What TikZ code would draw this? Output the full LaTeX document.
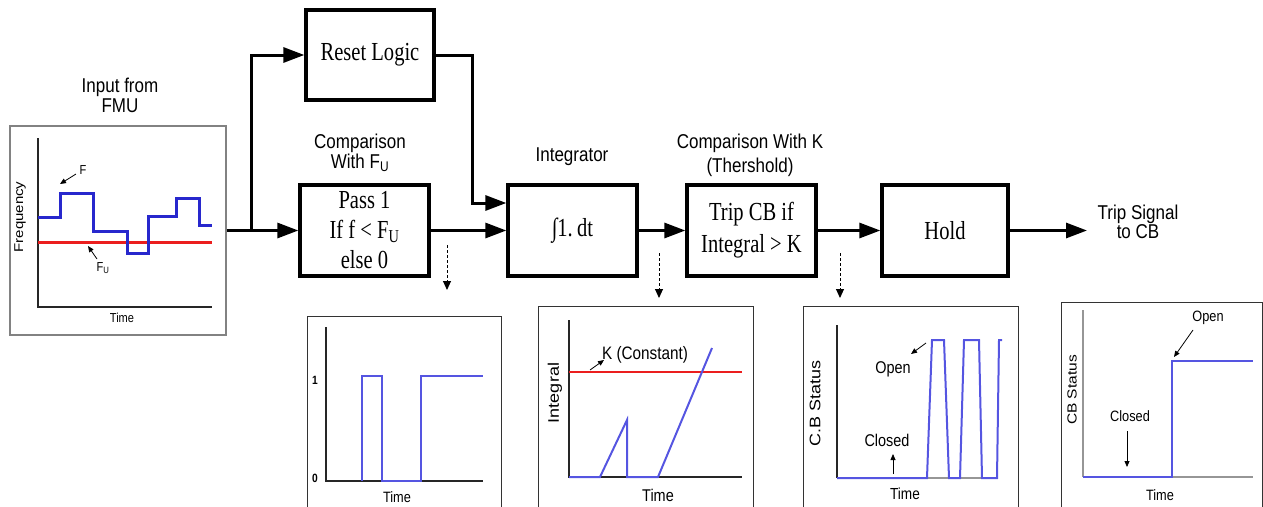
\documentclass[tikz,border=0pt]{standalone}
\usepackage{fontspec}
\usepackage{graphicx}
\setmainfont{Liberation Serif}
\newfontfamily\sa[FakeStretch=0.85]{Liberation Sans}
\newfontfamily\se[FakeStretch=0.79]{Liberation Serif}
\newfontfamily\sr{Liberation Sans}
\usetikzlibrary{arrows.meta}
\definecolor{sigblue}{RGB}{85,85,225}
\definecolor{inblue}{RGB}{40,40,205}
\definecolor{kred}{RGB}{235,30,30}
\definecolor{bxgray}{RGB}{130,130,130}
\definecolor{axgray}{RGB}{150,150,150}
\tikzset{
  blk/.style={draw, line width=3.3pt, minimum width=129, minimum height=91, inner sep=0,
    font=\se\fontsize{26}{30}\selectfont, align=center},
  arr/.style={line width=3pt, -{Triangle[length=21pt,width=15pt]}},
  darr/.style={line width=1pt, dash pattern=on 3pt off 2pt, -{Triangle[length=9pt,width=8pt]}},
  sarr/.style={line width=0.8pt, -{Triangle[length=6pt,width=5pt]}},
  lbl/.style={font=\sa\fontsize{20}{20}\selectfont, align=center, inner sep=0},
  plbl/.style={font=\sa\fontsize{#1}{#1}\selectfont, inner sep=0},
  rlbl/.style={font=\sr\fontsize{#1}{#1}\selectfont, inner sep=0, rotate=90},
  pbox/.style={draw=black!80, line width=1pt},
  ax/.style={line width=2pt, black!85},
  gax/.style={line width=2pt, axgray},
  sig/.style={line width=2pt, sigblue},
}
\begin{document}
\begin{tikzpicture}[x=1pt, y=-1pt]
\useasboundingbox (0,0) rectangle (1263,506);

% ---------------- input panel ----------------
\node[lbl] (intitle) at (120,95) {Input from\\FMU};
\node[draw=bxgray, line width=1.5pt, minimum width=216, minimum height=209, inner sep=0] (inbox) at (118,230.5) {};
\draw[line width=2.5pt, black!85] (38,138) -- (38,307) -- (212,307);
\draw[line width=3pt, kred] (38,242) -- (212,242);
\draw[line width=3pt, inblue] (38,217) -- (60,217) -- (60,193) -- (93,193) -- (93,231) -- (127,231)
  -- (127,253) -- (148,253) -- (148,216) -- (176,216) -- (176,198) -- (199,198) -- (199,225) -- (212,225);
\node[rlbl=15] (freq) at (20,217) {\scalebox{1}[0.85]{Frequency}};
\node[plbl=13] (intime) at (122,318) {Time};
\node[plbl=13] (flab) at (83,170) {F};
\node[plbl=13] (fulab) at (103,268) {F\textsubscript{U}};
\coordinate (fa1) at (76,174); \coordinate (fa2) at (60,184);
\draw[sarr] (fa1) -- (fa2);
\coordinate (fu1) at (97,259); \coordinate (fu2) at (88,246);
\draw[sarr] (fu1) -- (fu2);

% ---------------- blocks ----------------
\node[blk, minimum width=128, minimum height=90] (reset) at (370,55) {Reset Logic};
\node[blk] (comp) at (364.5,230.5) {Pass 1\\If f < F\textsubscript{U}\\else 0};
\node[blk] (integ) at (572.5,230.5) {∫1.\,dt};
\node[blk] (compk) at (751.5,230.5) {Trip CB if\\[2pt]Integral > K};
\node[blk, minimum width=126] (hold) at (945,230.5) {Hold};

\node[lbl] (complbl) at (360,153) {Comparison\\With F\textsubscript{U}};
\node[lbl] (integlbl) at (572,157) {Integrator};
\node[lbl, font=\sa\fontsize{20}{24}\selectfont] (compklbl) at (750,155) {Comparison With K\\(Thershold)};
\node[lbl, font=\sa\fontsize{20}{18}\selectfont] (trip) at (1138,222) {Trip Signal\\to CB};

% ---------------- connectors ----------------
\coordinate (br) at (251,230.5);
\coordinate (rj) at (472,203);
\coordinate (tripend) at (1087,230.5);
\draw[arr] (inbox.east) -- (comp.west);
\draw[arr] (br) |- (reset.west);
\draw[arr] (reset.east) -| (rj) -- (integ.west |- rj);
\draw[arr] (comp.east) -- (integ.west);
\draw[arr] (integ.east) -- (compk.west);
\draw[arr] (compk.east) -- (hold.west);
\draw[arr] (hold.east) -- (tripend);

\coordinate (d1a) at (447,245); \coordinate (d1b) at (447,290);
\coordinate (d2a) at (659,253); \coordinate (d2b) at (659,298);
\coordinate (d3a) at (840,253); \coordinate (d3b) at (840,298);
\draw[darr] (d1a) -- (d1b);
\draw[darr] (d2a) -- (d2b);
\draw[darr] (d3a) -- (d3b);

% ---------------- plot 1 ----------------
\draw[pbox] (307,507) |- (501,316) -- (501,507);
\draw[ax] (326,327) -- (326,481) -- (483,481);
\draw[sig] (362,481) -- (362,376) -- (382,376) -- (382,481) -- (421,481) -- (421,376) -- (483,376);
\node[plbl=12, font=\sa\bfseries\fontsize{12}{12}\selectfont] (one) at (315,380) {1};
\node[plbl=12, font=\sa\bfseries\fontsize{12}{12}\selectfont] (zero) at (315,478) {0};
\node[plbl=15] (t1) at (397,497) {Time};

% ---------------- plot 2 ----------------
\draw[pbox] (538,507) |- (753,306) -- (753,507);
\draw[ax] (569,320) -- (569,477) -- (742,477);
\draw[line width=2.5pt, kred] (569,372) -- (742,372);
\draw[sig] (569,477) -- (600,477) -- (627,420) -- (627,477) -- (658,477) -- (712,348);
\node[plbl=18] (klab) at (645,355) {K (Constant)};
\coordinate (ka1) at (590,370); \coordinate (ka2) at (604,360);
\draw[sarr] (ka1) -- (ka2);
\node[rlbl=18] (intg) at (555,393) {\scalebox{1}[0.85]{Integral}};
\node[plbl=17] (t2) at (658,495) {Time};

% ---------------- plot 3 ----------------
\draw[pbox] (803,507) |- (1018,306) -- (1018,507);
\draw[ax] (837,325) -- (837,478);
\draw[gax] (837,478) -- (998,478);
\draw[sig] (837,478) -- (927,478) -- (932,340) -- (944,340) -- (949,478) -- (960,478) -- (964,340)
  -- (979,340) -- (982,478) -- (997,478) -- (999,340) -- (1002,340);
\node[plbl=17] (open3) at (893,369) {Open};
\coordinate (oa1) at (926,343); \coordinate (oa2) at (911,354);
\draw[sarr] (oa1) -- (oa2);
\node[plbl=17] (closed3) at (887,440) {Closed};
\coordinate (ca1) at (893,474); \coordinate (ca2) at (893,454);
\draw[sarr] (ca1) -- (ca2);
\node[rlbl=18] (cbs3) at (815,403) {\scalebox{1}[0.85]{C.B Status}};
\node[plbl=16] (t3) at (905,494) {Time};

% ---------------- plot 4 ----------------
\draw[pbox] (1061,507) |- (1262,302) -- (1262,507);
\draw[line width=1.5pt, axgray] (1083,310) -- (1083,477);
\draw[gax] (1083,477) -- (1253,477);
\draw[line width=2.5pt, sigblue] (1083,477) -- (1172,477) -- (1172,361) -- (1253,361);
\node[plbl=15] (open4) at (1208,318) {Open};
\coordinate (ob1) at (1193,330); \coordinate (ob2) at (1174,357);
\draw[sarr] (ob1) -- (ob2);
\node[plbl=15] (closed4) at (1130,416) {Closed};
\coordinate (cb1) at (1127,431); \coordinate (cb2) at (1127,467);
\draw[sarr] (cb1) -- (cb2);
\node[rlbl=15.5] (cbs4) at (1072,390) {\scalebox{1}[0.85]{CB Status}};
\node[plbl=15] (t4) at (1160,495) {Time};
\end{tikzpicture}
\end{document}
